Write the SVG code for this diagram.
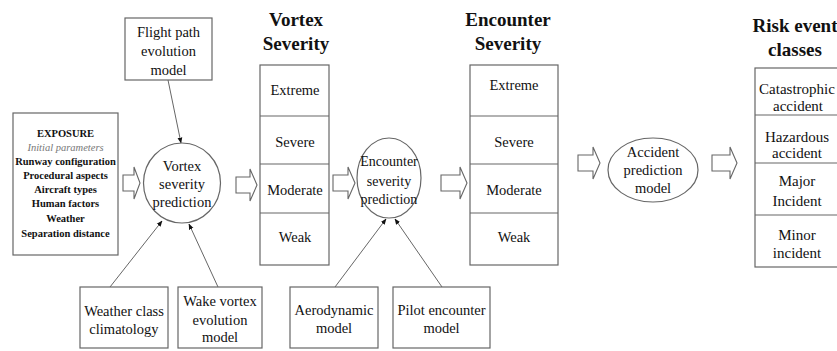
<svg xmlns="http://www.w3.org/2000/svg" width="837" height="351" viewBox="0 0 837 351">
<defs>
<style>
text{font-family:'Liberation Serif','Tinos','DejaVu Serif',serif;fill:#111;text-anchor:middle}
.box{fill:#fff;stroke:#666;stroke-width:1.2}
.t{font-size:14.5px}
.s{font-size:14px}
.r{font-size:15px}
.ex{font-size:10.5px;font-weight:bold}
.it{font-size:10.5px;font-style:italic;fill:#777}
.title{font-size:19px;font-weight:bold}
.hollow{fill:#fff;stroke:#666;stroke-width:1.1}
.conn{stroke:#666;stroke-width:1;fill:none;marker-end:url(#ah)}
</style>
<marker id="ah" viewBox="0 0 10 10" refX="9" refY="5" markerWidth="6" markerHeight="6" orient="auto" markerUnits="userSpaceOnUse">
<path d="M0,1 L10,5 L0,9 Z" fill="#111"/>
</marker>
</defs>
<rect width="837" height="351" fill="#fff"/>

<g id="connectors">
<line class="conn" x1="168" y1="80" x2="181" y2="143"/>
<line class="conn" x1="110" y1="287" x2="162" y2="221"/>
<line class="conn" x1="218" y1="287" x2="189" y2="224"/>
<line class="conn" x1="335" y1="287" x2="386" y2="219"/>
<line class="conn" x1="442" y1="287" x2="395" y2="219"/>
<path class="hollow" d="M123,175 H134 V167 L140,183 L134,199 V191 H123 Z"/>
<path class="hollow" d="M236,177 H250 V169 L257,185 L250,201 V193 H236 Z"/>
<path class="hollow" d="M333,175 H348 V167 L355,183 L348,199 V191 H333 Z"/>
<path class="hollow" d="M441,175 H460 V167 L467,183 L460,199 V191 H441 Z"/>
<path class="hollow" d="M578,155 H593 V147 L600,163 L593,179 V171 H578 Z"/>
<path class="hollow" d="M712,155 H730 V147 L737,163 L730,179 V171 H712 Z"/>
</g>

<g id="exposure">
<rect class="box" x="13" y="113" width="105" height="142"/>
<text class="ex" x="65.5" y="137">EXPOSURE</text>
<text class="it" x="65.5" y="151">Initial parameters</text>
<text class="ex" x="65.5" y="165">Runway configuration</text>
<text class="ex" x="65.5" y="179">Procedural aspects</text>
<text class="ex" x="65.5" y="193">Aircraft types</text>
<text class="ex" x="65.5" y="207">Human factors</text>
<text class="ex" x="65.5" y="222">Weather</text>
<text class="ex" x="65.5" y="237">Separation distance</text>
</g>

<g id="flight-path">
<rect class="box" x="125" y="18" width="87" height="62"/>
<text class="t" x="168.5" y="37">Flight path</text>
<text class="t" x="168.5" y="56">evolution</text>
<text class="t" x="168.5" y="75">model</text>
</g>

<g id="vortex-prediction">
<ellipse class="box" cx="182" cy="183" rx="38.5" ry="40"/>
<text class="t" x="182" y="171">Vortex</text>
<text class="t" x="182" y="189">severity</text>
<text class="t" x="182" y="207">prediction</text>
</g>

<g id="weather-class">
<rect class="box" x="80" y="287" width="88" height="61"/>
<text class="t" x="124" y="316">Weather class</text>
<text class="t" x="124" y="334">climatology</text>
</g>

<g id="wake-vortex">
<rect class="box" x="178" y="287" width="84" height="61"/>
<text class="t" x="220" y="306">Wake vortex</text>
<text class="t" x="220" y="325">evolution</text>
<text class="t" x="220" y="342">model</text>
</g>

<g id="vortex-severity">
<text class="title" x="296" y="26">Vortex</text>
<text class="title" x="296" y="50">Severity</text>
<rect class="box" x="260" y="65" width="69" height="200"/>
<line class="box" x1="260" y1="116" x2="329" y2="116"/>
<line class="box" x1="260" y1="164" x2="329" y2="164"/>
<line class="box" x1="260" y1="213" x2="329" y2="213"/>
<text class="t" x="295" y="95">Extreme</text>
<text class="t" x="295" y="147">Severe</text>
<text class="t" x="295" y="195">Moderate</text>
<text class="t" x="295" y="242">Weak</text>
</g>

<g id="encounter-prediction">
<ellipse class="box" cx="389" cy="178" rx="32" ry="40"/>
<text class="s" x="389" y="166">Encounter</text>
<text class="s" x="389" y="186">severity</text>
<text class="s" x="389" y="204">prediction</text>
</g>

<g id="aerodynamic">
<rect class="box" x="290" y="287" width="88" height="61"/>
<text class="t" x="334" y="315">Aerodynamic</text>
<text class="t" x="334" y="333">model</text>
</g>

<g id="pilot-encounter">
<rect class="box" x="393" y="287" width="97" height="61"/>
<text class="t" x="441.5" y="315">Pilot encounter</text>
<text class="t" x="441.5" y="333">model</text>
</g>

<g id="encounter-severity">
<text class="title" x="508" y="26">Encounter</text>
<text class="title" x="508" y="50">Severity</text>
<rect class="box" x="470" y="65" width="88" height="200"/>
<line class="box" x1="470" y1="116" x2="558" y2="116"/>
<line class="box" x1="470" y1="164" x2="558" y2="164"/>
<line class="box" x1="470" y1="213" x2="558" y2="213"/>
<text class="t" x="514" y="90">Extreme</text>
<text class="t" x="514" y="147">Severe</text>
<text class="t" x="514" y="195">Moderate</text>
<text class="t" x="514" y="242">Weak</text>
</g>

<g id="accident-prediction">
<ellipse class="box" cx="653" cy="170" rx="45" ry="32"/>
<text class="t" x="653" y="157">Accident</text>
<text class="t" x="653" y="175">prediction</text>
<text class="t" x="653" y="193">model</text>
</g>

<g id="risk-classes">
<text class="title" x="795" y="32">Risk event</text>
<text class="title" x="795" y="56">classes</text>
<rect class="box" x="755" y="68" width="95" height="199"/>
<line class="box" x1="755" y1="115" x2="850" y2="115"/>
<line class="box" x1="755" y1="163" x2="850" y2="163"/>
<line class="box" x1="755" y1="215" x2="850" y2="215"/>
<text class="r" x="797" y="94">Catastrophic</text>
<text class="r" x="798" y="111">accident</text>
<text class="r" x="797" y="142">Hazardous</text>
<text class="r" x="797" y="158">accident</text>
<text class="r" x="797" y="186">Major</text>
<text class="r" x="797" y="206">Incident</text>
<text class="r" x="797" y="240">Minor</text>
<text class="r" x="797" y="258">incident</text>
</g>
</svg>
